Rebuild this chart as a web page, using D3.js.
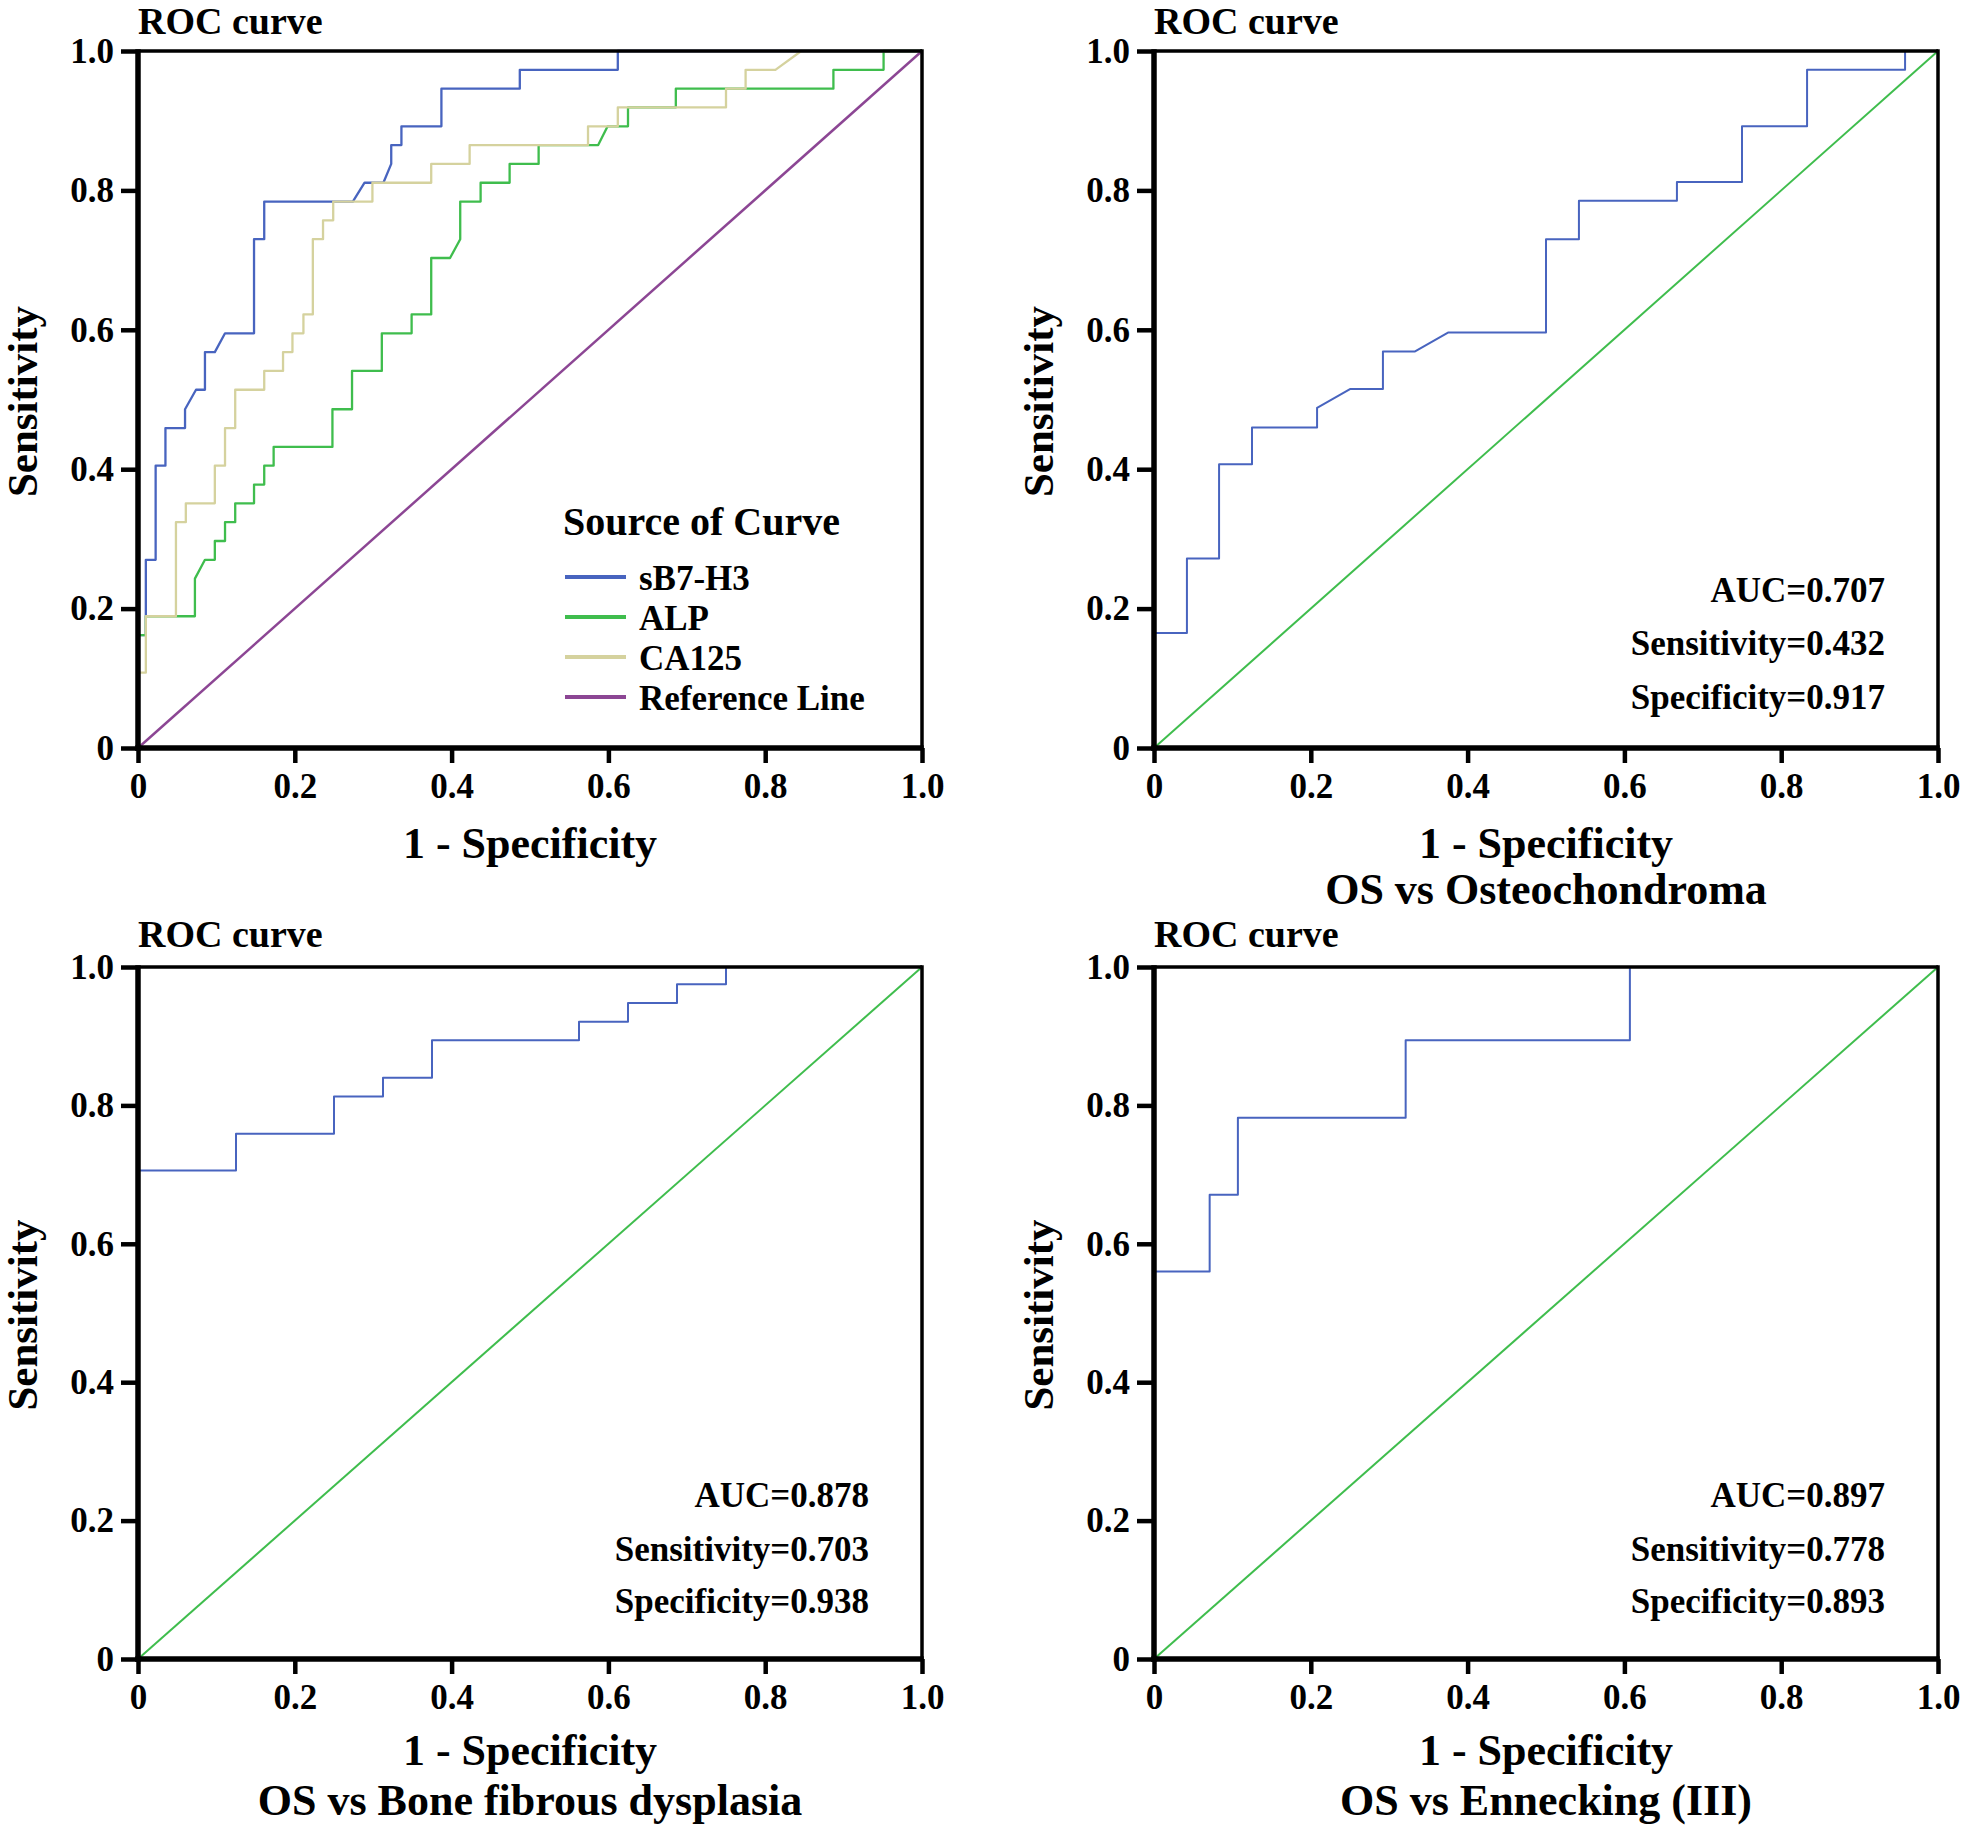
<!DOCTYPE html>
<html>
<head>
<meta charset="utf-8">
<script src="https://cdn.jsdelivr.net/npm/d3@7"></script>
<style>
  html, body { margin: 0; padding: 0; background: #fff; }
  svg text { font-family: "Liberation Serif", "Times New Roman", serif; font-weight: bold; fill: #000; }
</style>
</head>
<body>
<svg id="chart" width="1961" height="1830"></svg>
<script>
// ---------- DATA ----------
const tickValues = [0, 0.2, 0.4, 0.6, 0.8, 1.0];
const tickLabels = ["0", "0.2", "0.4", "0.6", "0.8", "1.0"];

const panelTitles = ["ROC curve", "ROC curve", "ROC curve", "ROC curve"];
const xAxisTitles = ["1 - Specificity", "1 - Specificity", "1 - Specificity", "1 - Specificity"];
const comparisonTitles = ["", "OS vs Osteochondroma", "OS vs Bone fibrous dysplasia", "OS vs Ennecking (III)"];
const yAxisTitle = "Sensitivity";

const legendTitle = "Source of Curve";
const legendNames = ["sB7-H3", "ALP", "CA125", "Reference Line"];

// Panel A: three markers (1 - specificity, sensitivity)
const sB7H3_all_x = [0, 0, 0.01, 0.01, 0.0225, 0.0225, 0.035, 0.035, 0.060, 0.060, 0.074, 0.0854, 0.0854, 0.098, 0.111, 0.148, 0.148, 0.161, 0.161, 0.274, 0.289, 0.313, 0.323, 0.323, 0.336, 0.336, 0.387, 0.387, 0.487, 0.487, 0.612, 0.612, 1];
const sB7H3_all_y = [0, 0.162, 0.162, 0.270, 0.270, 0.405, 0.405, 0.459, 0.459, 0.486, 0.514, 0.514, 0.568, 0.568, 0.595, 0.595, 0.730, 0.730, 0.784, 0.784, 0.811, 0.811, 0.838, 0.865, 0.865, 0.892, 0.892, 0.946, 0.946, 0.973, 0.973, 1, 1];

const ALP_x = [0, 0, 0.01, 0.01, 0.0726, 0.0726, 0.0854, 0.098, 0.098, 0.111, 0.111, 0.124, 0.124, 0.148, 0.148, 0.161, 0.161, 0.173, 0.173, 0.248, 0.248, 0.273, 0.273, 0.311, 0.311, 0.349, 0.349, 0.374, 0.374, 0.398, 0.411, 0.411, 0.437, 0.437, 0.474, 0.474, 0.511, 0.511, 0.587, 0.599, 0.625, 0.625, 0.686, 0.686, 0.887, 0.887, 0.951, 0.951, 1];
const ALP_y = [0, 0.162, 0.162, 0.189, 0.189, 0.243, 0.270, 0.270, 0.297, 0.297, 0.324, 0.324, 0.351, 0.351, 0.378, 0.378, 0.405, 0.405, 0.432, 0.432, 0.486, 0.486, 0.541, 0.541, 0.595, 0.595, 0.622, 0.622, 0.703, 0.703, 0.730, 0.784, 0.784, 0.811, 0.811, 0.838, 0.838, 0.865, 0.865, 0.892, 0.892, 0.919, 0.919, 0.946, 0.946, 0.973, 0.973, 1, 1];

const CA125_x = [0, 0, 0.01, 0.01, 0.0484, 0.0484, 0.061, 0.061, 0.098, 0.098, 0.111, 0.111, 0.124, 0.124, 0.161, 0.161, 0.185, 0.185, 0.197, 0.197, 0.211, 0.211, 0.223, 0.223, 0.236, 0.236, 0.249, 0.249, 0.299, 0.299, 0.374, 0.374, 0.423, 0.423, 0.574, 0.574, 0.612, 0.612, 0.750, 0.750, 0.775, 0.775, 0.813, 0.846, 1];
const CA125_y = [0, 0.108, 0.108, 0.189, 0.189, 0.324, 0.324, 0.351, 0.351, 0.405, 0.405, 0.459, 0.459, 0.514, 0.514, 0.541, 0.541, 0.568, 0.568, 0.595, 0.595, 0.622, 0.622, 0.730, 0.730, 0.757, 0.757, 0.784, 0.784, 0.811, 0.811, 0.838, 0.838, 0.865, 0.865, 0.892, 0.892, 0.919, 0.919, 0.946, 0.946, 0.973, 0.973, 1, 1];

// Panel B: OS vs Osteochondroma
const osteo_x = [0, 0, 0.042, 0.042, 0.083, 0.083, 0.125, 0.125, 0.208, 0.208, 0.250, 0.292, 0.292, 0.333, 0.375, 0.500, 0.500, 0.542, 0.542, 0.667, 0.667, 0.750, 0.750, 0.833, 0.833, 0.958, 0.958, 1];
const osteo_y = [0, 0.165, 0.165, 0.272, 0.272, 0.407, 0.407, 0.460, 0.460, 0.488, 0.515, 0.515, 0.569, 0.569, 0.596, 0.596, 0.730, 0.730, 0.785, 0.785, 0.812, 0.812, 0.892, 0.892, 0.973, 0.973, 1, 1];

// Panel C: OS vs Bone fibrous dysplasia
const fibrous_x = [0, 0, 0.125, 0.125, 0.25, 0.25, 0.3125, 0.3125, 0.375, 0.375, 0.5625, 0.5625, 0.625, 0.625, 0.6875, 0.6875, 0.75, 0.75, 1];
const fibrous_y = [0, 0.706, 0.706, 0.759, 0.759, 0.813, 0.813, 0.840, 0.840, 0.894, 0.894, 0.921, 0.921, 0.948, 0.948, 0.975, 0.975, 1, 1];

// Panel D: OS vs Ennecking (III)
const enneck_x = [0, 0, 0.071, 0.071, 0.107, 0.107, 0.321, 0.321, 0.607, 0.607, 1];
const enneck_y = [0, 0.560, 0.560, 0.671, 0.671, 0.782, 0.782, 0.894, 0.894, 1, 1];

const diag_x = [0, 1];
const diag_y = [0, 1];

const statLabels = ["AUC", "Sensitivity", "Specificity"];
const statsB = [0.707, 0.432, 0.917];
const statsC = [0.878, 0.703, 0.938];
const statsD = [0.897, 0.778, 0.893];

// ---------- STYLE ----------
const COL_BLUE = "#4864bf";
const COL_GREEN = "#3fbd4d";
const COL_KHAKI = "#d5d29e";
const COL_PURPLE = "#8c4694";

const zip = (xs, ys) => xs.map((x, i) => [x, ys[i]]);

const panels = [
  { x0: 138, x1: 922, y0: 51, y1: 748, titleY: 34, xt1: 858, xt2: 904, comp: comparisonTitles[0],
    series: [
      { pts: zip(sB7H3_all_x, sB7H3_all_y), color: COL_BLUE, w: 2.3 },
      { pts: zip(ALP_x, ALP_y), color: COL_GREEN, w: 2.3 },
      { pts: zip(CA125_x, CA125_y), color: COL_KHAKI, w: 2.3 },
      { pts: zip(diag_x, diag_y), color: COL_PURPLE, w: 2.5 }
    ], legend: true },
  { x0: 1154, x1: 1938, y0: 51, y1: 748, titleY: 34, xt1: 858, xt2: 904, comp: comparisonTitles[1],
    series: [
      { pts: zip(osteo_x, osteo_y), color: COL_BLUE, w: 2 },
      { pts: zip(diag_x, diag_y), color: COL_GREEN, w: 2 }
    ], stats: statsB, statRight: 1885, statBase: [602, 655, 709] },
  { x0: 138, x1: 922, y0: 967, y1: 1659, titleY: 947, xt1: 1765, xt2: 1815, comp: comparisonTitles[2],
    series: [
      { pts: zip(fibrous_x, fibrous_y), color: COL_BLUE, w: 2 },
      { pts: zip(diag_x, diag_y), color: COL_GREEN, w: 2 }
    ], stats: statsC, statRight: 869, statBase: [1507, 1561, 1613] },
  { x0: 1154, x1: 1938, y0: 967, y1: 1659, titleY: 947, xt1: 1765, xt2: 1815, comp: comparisonTitles[3],
    series: [
      { pts: zip(enneck_x, enneck_y), color: COL_BLUE, w: 2 },
      { pts: zip(diag_x, diag_y), color: COL_GREEN, w: 2 }
    ], stats: statsD, statRight: 1885, statBase: [1507, 1561, 1613] }
];

const svg = d3.select("#chart");

panels.forEach((p, idx) => {
  const x = d3.scaleLinear().domain([0, 1]).range([p.x0, p.x1]);
  const y = d3.scaleLinear().domain([0, 1]).range([p.y1, p.y0]);
  const g = svg.append("g");

  // curves
  const line = d3.line().x(d => x(d[0])).y(d => y(d[1]));
  p.series.forEach(s => {
    g.append("path").attr("d", line(s.pts)).attr("fill", "none")
      .attr("stroke", s.color).attr("stroke-width", s.w).attr("stroke-linejoin", "round");
  });

  // top & right border
  g.append("line").attr("x1", x(0)).attr("x2", x(1)).attr("y1", y(1)).attr("y2", y(1))
    .attr("stroke", "#000").attr("stroke-width", 3.5);
  g.append("line").attr("x1", x(1)).attr("x2", x(1)).attr("y1", y(1) - 1.75).attr("y2", y(0))
    .attr("stroke", "#000").attr("stroke-width", 3.5);

  // axes
  const fmt = v => tickLabels[tickValues.indexOf(v)];
  const ax = g.append("g").attr("transform", `translate(0,${p.y1})`)
    .call(d3.axisBottom(x).tickValues(tickValues).tickFormat(fmt).tickSize(15).tickSizeOuter(0).tickPadding(10));
  const ay = g.append("g").attr("transform", `translate(${p.x0},0)`)
    .call(d3.axisLeft(y).tickValues(tickValues).tickFormat(fmt).tickSize(17).tickSizeOuter(0).tickPadding(7));
  [ax, ay].forEach(a => {
    a.select(".domain").attr("stroke", "#000").attr("stroke-width", 5.5);
    a.selectAll(".tick line").attr("stroke", "#000").attr("stroke-width", 4.5);
    a.selectAll(".tick text").style("font-family", '"Liberation Serif", "Times New Roman", serif')
      .style("font-weight", "bold").style("font-size", "35px").attr("fill", "#000");
  });
  ax.select(".domain").attr("d", `M${x(0) - 2.75},0H${x(1) + 1.75}`);
  ay.select(".domain").attr("d", `M0,${y(0) + 2.75}V${y(1) - 1.75}`);

  // titles
  g.append("text").attr("x", p.x0).attr("y", p.titleY).style("font-size", "38px").text(panelTitles[idx]);
  g.append("text").attr("x", (p.x0 + p.x1) / 2).attr("y", p.xt1).attr("text-anchor", "middle")
    .style("font-size", "44px").text(xAxisTitles[idx]);
  if (p.comp) {
    g.append("text").attr("x", (p.x0 + p.x1) / 2).attr("y", p.xt2).attr("text-anchor", "middle")
      .style("font-size", "44px").text(p.comp);
  }
  g.append("text").attr("transform", `translate(${p.x0 - 101},${(p.y0 + p.y1) / 2 + 2}) rotate(-90)`)
    .attr("text-anchor", "middle").style("font-size", "43px").text(yAxisTitle);

  // stats
  if (p.stats) {
    p.stats.forEach((v, i) => {
      g.append("text").attr("x", p.statRight).attr("y", p.statBase[i]).attr("text-anchor", "end")
        .style("font-size", "35px").text(`${statLabels[i]}=${v.toFixed(3)}`);
    });
  }

  // legend
  if (p.legend) {
    const lg = g.append("g");
    lg.append("text").attr("x", 563).attr("y", 535).style("font-size", "40px").text(legendTitle);
    legendNames.forEach((n, i) => {
      const yy = 577 + i * 40;
      lg.append("line").attr("x1", 565).attr("x2", 626).attr("y1", yy).attr("y2", yy)
        .attr("stroke", p.series[i].color).attr("stroke-width", 4);
      lg.append("text").attr("x", 639).attr("y", yy + 13).style("font-size", "35px").text(n);
    });
  }
});
</script>
</body>
</html>
